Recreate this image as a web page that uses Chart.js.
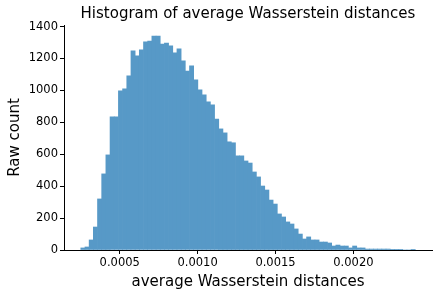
<!DOCTYPE html>
<html>
<head>
<meta charset="utf-8">
<script src="https://cdn.jsdelivr.net/npm/chart.js@4"></script>
<style>
  body { margin: 0; background: #fff; }
  #wrap { width: 439px; height: 296px; }
</style>
</head>
<body>
<div id="wrap"><canvas id="myChart" width="439" height="296"></canvas></div>
<script>
// histogram: 80 bins, counts
const binStart = 0.00025;
const binWidth = 0.00002684;
const counts = [
  13, 19, 63, 144, 320, 477, 596, 834, 834, 997,
  1010, 1091, 1248, 1217, 1254, 1304, 1310, 1341, 1341, 1291,
  1297, 1279, 1235, 1260, 1185, 1122, 1154, 1066, 1003, 972,
  928, 909, 821, 759, 734, 678, 672, 590, 590, 558,
  545, 489, 458, 401, 376, 313, 288, 226, 207, 176,
  163, 132, 100, 69, 82, 63, 63, 50, 50, 44,
  25, 31, 25, 25, 13, 25, 13, 13, 6, 6,
  6, 6, 6, 6, 2, 1, 1, 0, 0, 1
];
const xTicks = [0.0005, 0.0010, 0.0015, 0.0020];
const yTicks = [0, 200, 400, 600, 800, 1000, 1200, 1400];
const titleText = "Histogram of average Wasserstein distances";

const binCenters = counts.map((_, i) => binStart + (i + 0.5) * binWidth);

const ctx = document.getElementById("myChart");
const font = "'DejaVu Sans', sans-serif";

// title centred over the plot area, like matplotlib
const plotTitle = {
  id: "plotTitle",
  afterDraw(chart) {
    const c = chart.ctx;
    const area = chart.chartArea;
    c.save();
    c.fillStyle = "#000";
    c.font = "15px " + font;
    c.textAlign = "center";
    c.textBaseline = "middle";
    c.fillText(titleText, (area.left + area.right) / 2, 14);
    c.restore();
  },
};

const data = {
  datasets: [
    {
      data: counts.map((c, i) => ({ x: binCenters[i], y: c })),
      backgroundColor: "#5799c7",
      borderWidth: 0,
      barPercentage: 1,
      categoryPercentage: 1,
    },
  ],
};

const config = {
  type: "bar",
  data: data,
  plugins: [plotTitle],
  options: {
    responsive: false,
    animation: false,
    layout: { padding: { left: 0, right: 7, top: 25, bottom: 0 } },
    plugins: {
      legend: { display: false },
      tooltip: { enabled: false },
      title: { display: false },
    },
    scales: {
      x: {
        type: "linear",
        offset: false,
        min: 0.0001423,
        max: 0.0025045,
        afterBuildTicks: (scale) => {
          scale.ticks = xTicks.map((v) => ({ value: v }));
        },
        afterFit: (scale) => {
          scale.height = 46;
        },
        ticks: {
          color: "#000",
          font: { family: font, size: 11.5 },
          maxRotation: 0,
          autoSkip: false,
          padding: 2,
          callback: (v) => Number(v).toFixed(4),
        },
        grid: {
          offset: false,
          drawOnChartArea: false,
          drawTicks: true,
          tickLength: 4,
          color: "#000",
        },
        border: { display: true, color: "#000", width: 1 },
        title: {
          display: true,
          text: "average Wasserstein distances",
          color: "#000",
          font: { family: font, size: 15 },
          padding: { top: 0, bottom: 5 },
        },
      },
      y: {
        min: 0,
        max: 1410,
        afterBuildTicks: (scale) => {
          scale.ticks = yTicks.map((v) => ({ value: v }));
        },
        afterFit: (scale) => {
          scale.width = 64;
        },
        ticks: {
          color: "#000",
          font: { family: font, size: 11.5 },
          padding: 2,
          callback: (v) => String(v),
        },
        grid: {
          drawOnChartArea: false,
          drawTicks: true,
          tickLength: 4,
          color: "#000",
        },
        border: { display: true, color: "#000", width: 1 },
        title: {
          display: true,
          text: "Raw count",
          color: "#000",
          font: { family: font, size: 15 },
          padding: { top: 6, bottom: 0 },
        },
      },
    },
  },
};

new Chart(ctx, config);
</script>
</body>
</html>
